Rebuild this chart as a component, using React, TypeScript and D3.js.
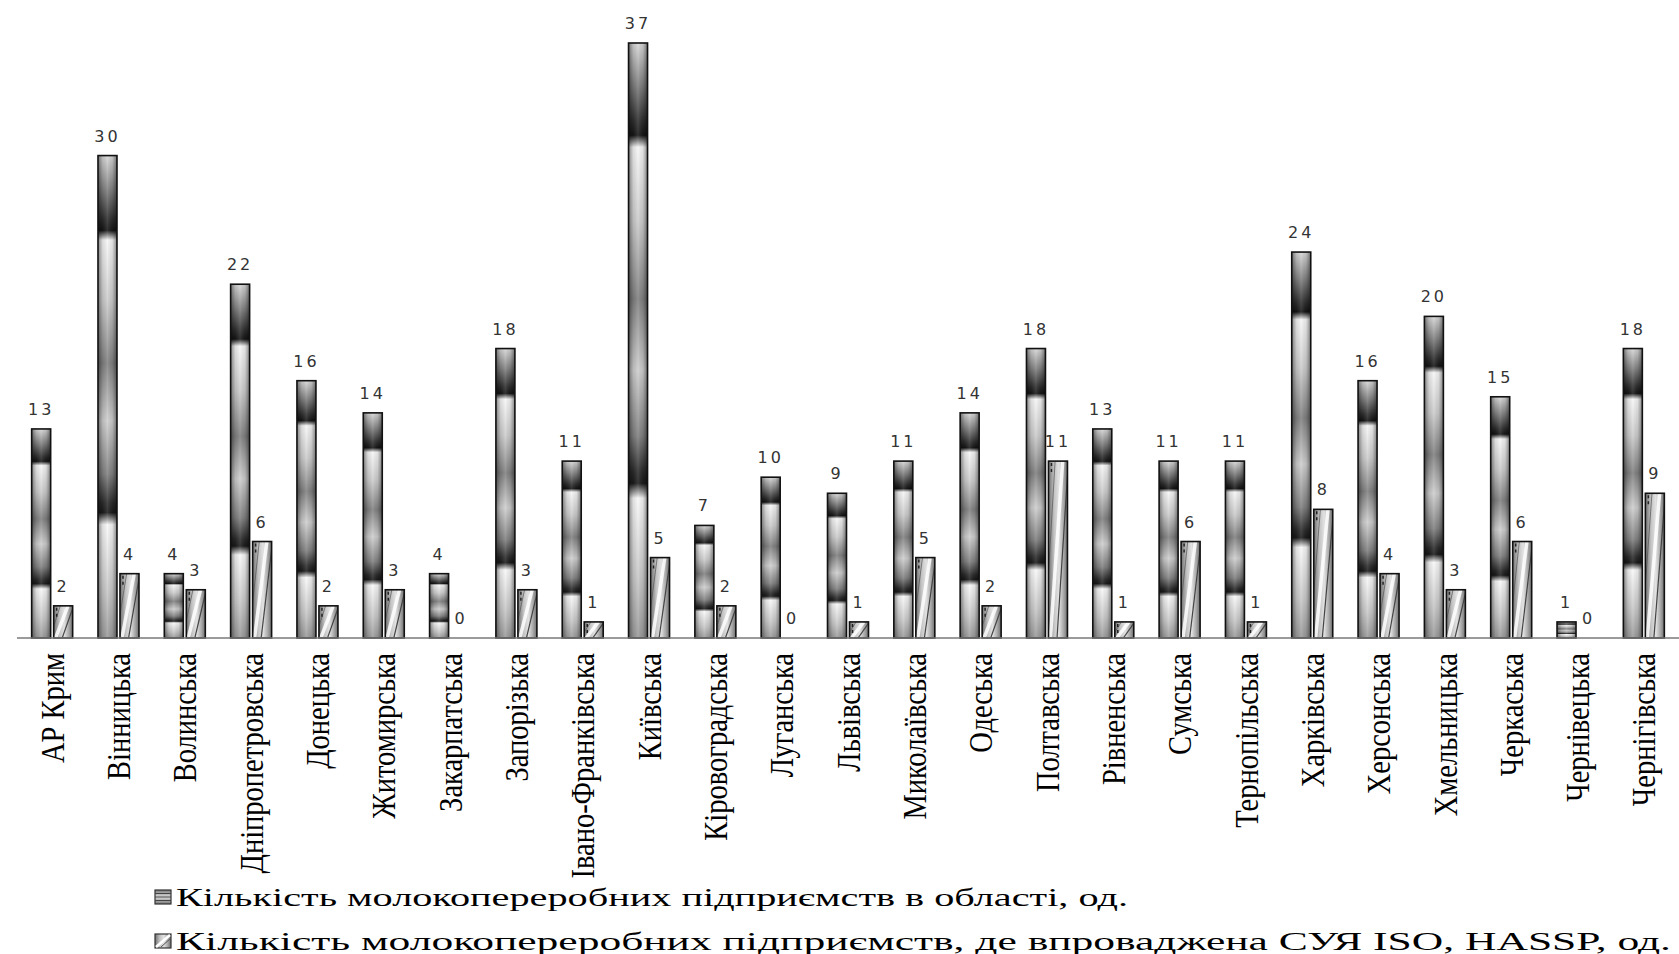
import React from "react";
import * as d3 from "d3";

const categories = [
  "АР Крим", "Вінницька", "Волинська", "Дніпропетровська", "Донецька",
  "Житомирська", "Закарпатська", "Запорізька", "Івано-Франківська", "Київська",
  "Кіровоградська", "Луганська", "Львівська", "Миколаївська", "Одеська",
  "Полтавська", "Рівненська", "Сумська", "Тернопільська", "Харківська",
  "Херсонська", "Хмельницька", "Черкаська", "Чернівецька", "Чернігівська",
];
const totalPlants = [13, 30, 4, 22, 16, 14, 4, 18, 11, 37, 7, 10, 9, 11, 14, 18, 13, 11, 11, 24, 16, 20, 15, 1, 18];
const certifiedPlants = [2, 4, 3, 6, 2, 3, 0, 3, 1, 5, 2, 0, 1, 5, 2, 11, 1, 6, 1, 8, 4, 3, 6, 0, 9];
const seriesNames = [
  "Кількість молокопереробних підприємств в області, од.",
  "Кількість молокопереробних підприємств, де впроваджена СУЯ  ISO, HASSP, од.",
];

const W = 1679;
const H = 954;
const BASE_Y = 638;

export default function App() {
  const x0 = d3.scaleBand<string>().domain(categories).range([19, 1677]).paddingInner(0).paddingOuter(0);
  const bw = x0.bandwidth();
  const x1 = d3
    .scaleBand<number>()
    .domain([0, 1])
    .range([bw / 2 - 20.5, bw / 2 + 20.5])
    .paddingInner(3 / 22)
    .paddingOuter(0);
  const y = d3.scaleLinear().domain([0, 37]).range([BASE_Y, 43]);
  const barW = x1.bandwidth();

  const mainStops: [number, string][] = [
    [0, "#d8d8d8"], [0.07, "#808080"], [0.13, "#303030"], [0.155, "#161616"], [0.175, "#f6f6f6"],
    [0.3, "#cccccc"], [0.43, "#808080"], [0.55, "#cecece"], [0.66, "#808080"], [0.72, "#2c2c2c"],
    [0.74, "#1c1c1c"], [0.765, "#f8f8f8"], [0.9, "#c8c8c8"], [1, "#999999"],
  ];

  return (
    <svg
      width={W}
      height={H}
      viewBox={`0 0 ${W} ${H}`}
      style={{ position: "absolute", left: 0, top: 0, background: "#fff" }}
    >
      <defs>
        <linearGradient id="mainV" x1="0" y1="0" x2="0" y2="1">
          {mainStops.map(([o, c], i) => (
            <stop key={i} offset={o} stopColor={c} />
          ))}
        </linearGradient>
        <linearGradient id="shadeH" x1="0" y1="0" x2="1" y2="0">
          <stop offset="0" stopColor="#000" stopOpacity={0.45} />
          <stop offset="0.25" stopColor="#000" stopOpacity={0.1} />
          <stop offset="0.5" stopColor="#fff" stopOpacity={0.12} />
          <stop offset="0.75" stopColor="#000" stopOpacity={0.08} />
          <stop offset="1" stopColor="#000" stopOpacity={0.45} />
        </linearGradient>
        <linearGradient id="secBase" x1="0" y1="0" x2="1" y2="0">
          <stop offset="0" stopColor="#707070" />
          <stop offset="0.3" stopColor="#c4c4c4" />
          <stop offset="0.55" stopColor="#e2e2e2" />
          <stop offset="0.8" stopColor="#a8a8a8" />
          <stop offset="1" stopColor="#6e6e6e" />
        </linearGradient>
        <linearGradient id="legStripe" x1="0" y1="0" x2="0" y2="1">
          <stop offset="0" stopColor="#777" />
          <stop offset="0.5" stopColor="#ddd" />
          <stop offset="1" stopColor="#777" />
        </linearGradient>
        {categories.map((c, i) => {
          const v = certifiedPlants[i];
          const bx = (x0(c) as number) + (x1(1) as number);
          return (
            <clipPath id={`clip${i}`} key={c}>
              <rect x={bx} y={y(v)} width={barW} height={Math.max(0, BASE_Y - y(v))} />
            </clipPath>
          );
        })}
      </defs>

      {/* bars */}
      {categories.map((c, i) => {
        const gx = x0(c) as number;
        const mx = gx + (x1(0) as number);
        const sx = gx + (x1(1) as number);
        const mv = totalPlants[i];
        const sv = certifiedPlants[i];
        const my = y(mv);
        const sy = y(sv);
        const mh = BASE_Y - my;
        const sh = BASE_Y - sy;
        return (
          <g key={c}>
            <rect x={mx} y={my} width={barW} height={mh} fill="url(#mainV)" />
            <rect x={mx} y={my} width={barW} height={mh} fill="url(#shadeH)" />
            <rect x={mx} y={my} width={barW} height={mh} fill="none" stroke="#111" strokeWidth={1.6} />
            {sh > 0 && (
              <g>
                <rect x={sx} y={sy} width={barW} height={sh} fill="url(#secBase)" />
                <g clipPath={`url(#clip${i})`}>
                  <line x1={sx + barW * 0.1} y1={BASE_Y} x2={sx + barW * 0.75} y2={sy} stroke="#fff" strokeWidth={3.5} opacity={0.85} />
                  <line x1={sx + barW * 0.45} y1={BASE_Y} x2={sx + barW * 1.05} y2={sy} stroke="#444" strokeWidth={1.2} />
                  <line x1={sx + barW * -0.2} y1={BASE_Y} x2={sx + barW * 0.35} y2={sy} stroke="#555" strokeWidth={1} opacity={0.7} />
                  <line x1={sx + 3} y1={sy + 2} x2={sx + 3} y2={sy + Math.min(12, sh)} stroke="#222" strokeWidth={1.5} strokeDasharray="3 3" />
                </g>
                <rect x={sx} y={sy} width={barW} height={sh} fill="none" stroke="#111" strokeWidth={1.6} />
              </g>
            )}
            <text
              x={mx + barW / 2}
              y={my - 14}
              textAnchor="middle"
              fontFamily="DejaVu Sans, Verdana, sans-serif"
              fontSize={16}
              letterSpacing={3}
              fill="#333"
            >
              {mv}
            </text>
            <text
              x={sx + barW / 2}
              y={sy - 14}
              textAnchor="middle"
              fontFamily="DejaVu Sans, Verdana, sans-serif"
              fontSize={16}
              letterSpacing={3}
              fill="#333"
            >
              {sv}
            </text>
          </g>
        );
      })}

      {/* axis line */}
      <line x1={17} x2={W} y1={BASE_Y} y2={BASE_Y} stroke="#7a7a7a" strokeWidth={1.5} />

      {/* category labels */}
      {categories.map((c) => {
        const cx = (x0(c) as number) + bw / 2;
        return (
          <text
            key={c}
            transform={`translate(${cx},653) rotate(-90) scale(1,1.2)`}
            textAnchor="end"
            dy="0.34em"
            fontFamily="Liberation Serif, Times New Roman, serif"
            fontSize={28.5}
            fill="#000"
          >
            {c}
          </text>
        );
      })}

      {/* legend */}
      <g>
        <rect x={155} y={890} width={16} height={14} fill="url(#legStripe)" stroke="#333" strokeWidth={1.2} />
        {[0.25, 0.5, 0.75].map((f) => (
          <line key={f} x1={155} x2={171} y1={890 + 14 * f} y2={890 + 14 * f} stroke="#444" strokeWidth={1} />
        ))}
        <text
          x={176}
          y={906}
          fontFamily="Liberation Serif, Times New Roman, serif"
          fontSize={25}
          textLength={952}
          lengthAdjust="spacingAndGlyphs"
          fill="#000"
        >
          {seriesNames[0]}
        </text>
        <rect x={155} y={934} width={16} height={14} fill="url(#secBase)" stroke="#333" strokeWidth={1.2} />
        <line x1={156} y1={947} x2={170} y2={935} stroke="#fff" strokeWidth={2.5} />
        <line x1={161} y1={947} x2={171} y2={938} stroke="#555" strokeWidth={1} />
        <text
          x={176}
          y={950}
          fontFamily="Liberation Serif, Times New Roman, serif"
          fontSize={25}
          textLength={1495}
          lengthAdjust="spacingAndGlyphs"
          fill="#000"
        >
          {seriesNames[1]}
        </text>
      </g>
    </svg>
  );
}
